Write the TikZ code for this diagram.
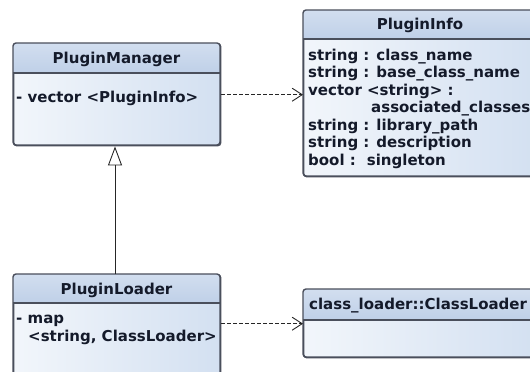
\documentclass[tikz,border=0pt]{standalone}
\usepackage{fontspec}
\setmainfont{DejaVu Sans}
\usetikzlibrary{arrows.meta}
\definecolor{edge}{HTML}{4A4F5C}
\definecolor{headtop}{HTML}{D2DEEF}
\definecolor{headbot}{HTML}{BFD0E8}
\definecolor{bodytl}{HTML}{F2F6FB}
\definecolor{bodybr}{HTML}{D3E0F1}
\definecolor{ink}{HTML}{141A2A}
\tikzset{
  x=1pt, y=-1pt,
  classbox/.style={draw=edge, line width=1.4pt, rounded corners=3pt,
    anchor=north west, inner sep=0pt, shading=axis, shading angle=135,
    left color=bodytl, right color=bodybr},
  headfill/.style={top color=headtop, bottom color=headbot},
  sepline/.style={draw=edge, line width=1.2pt},
  outline/.style={draw=edge, line width=1.4pt, rounded corners=3pt},
  txt/.style={font=\bfseries\fontsize{15}{17.4}\selectfont, text=ink, inner sep=0pt},
  bodytxt/.style={txt, anchor=base west},
  titletxt/.style={txt, anchor=base},
  depend/.style={draw=black!85, line width=0.9pt, dash pattern=on 4pt off 2pt,
    -{Straight Barb[length=10pt,width=13pt,line width=0.9pt]}},
  inherit/.style={draw=black!85, line width=0.9pt,
    -{Triangle[open,length=19pt,width=14pt,line width=0.9pt]}}
}
\begin{document}
\begin{tikzpicture}
\useasboundingbox (0,0) rectangle (530,372);
\fill[white] (0,0) rectangle (530,372);
\clip (0,0) rectangle (530,372);

% PluginManager
\node[classbox, minimum width=207pt, minimum height=102pt] (pm) at (13,43) {};
\begin{scope}
  \clip[rounded corners=3pt] (13,43) rectangle (220,145);
  \fill[headfill] (13,43) rectangle (220,73);
\end{scope}
\draw[sepline] (13,73) -- (220,73);
\draw[outline] (13,43) rectangle (220,145);
\node[titletxt] (pmtitle) at (116.5,63) {PluginManager};
\node[bodytxt] (pmattr) at (16,102) {- vector <PluginInfo>};

% PluginInfo
\node[classbox, minimum width=234pt, minimum height=166pt] (pi) at (303,10) {};
\begin{scope}
  \clip[rounded corners=3pt] (303,10) rectangle (537,176);
  \fill[headfill] (303,10) rectangle (537,39);
\end{scope}
\draw[sepline] (303,39) -- (537,39);
\draw[outline] (303,10) rectangle (537,176);
\node[titletxt] (pititle) at (420,29) {PluginInfo};
\node[bodytxt] (pia1) at (308,60) {string : class\_name};
\node[bodytxt] (pia2) at (308,77.5) {string : base\_class\_name};
\node[bodytxt] (pia3) at (308,95) {vector <string> :};
\node[bodytxt] (pia4) at (371,112.5) {associated\_classes};
\node[bodytxt] (pia5) at (308,130) {string : library\_path};
\node[bodytxt] (pia6) at (308,147.5) {string : description};
\node[bodytxt] (pia7) at (308,165) {bool :\hspace{11pt}singleton};

% PluginLoader
\node[classbox, minimum width=207pt, minimum height=111pt] (pl) at (13,274) {};
\begin{scope}
  \clip[rounded corners=3pt] (13,274) rectangle (220,385);
  \fill[headfill] (13,274) rectangle (220,303);
\end{scope}
\draw[sepline] (13,303) -- (220,303);
\draw[outline] (13,274) rectangle (220,385);
\node[titletxt] (pltitle) at (116.5,294) {PluginLoader};
\node[bodytxt] (pla1) at (16,323) {- map};
\node[bodytxt] (pla2) at (28,341) {<string, ClassLoader>};

% class_loader::ClassLoader
\node[classbox, minimum width=234pt, minimum height=68pt] (cl) at (303,289) {};
\begin{scope}
  \clip[rounded corners=3pt] (303,289) rectangle (537,357);
  \fill[headfill] (303,289) rectangle (537,320);
\end{scope}
\draw[sepline] (303,320) -- (537,320);
\draw[outline] (303,289) rectangle (537,357);
\node[bodytxt] (cltitle) at (309,309) {class\_loader::ClassLoader};

% relations
\draw[depend] (pm.east) -- (pi.west |- pm.east);
\draw[depend] (pl.east |- cl.west) -- (cl.west);
\draw[inherit] (pl.north -| 115,0) -- (pm.south -| 115,0);
\end{tikzpicture}
\end{document}
